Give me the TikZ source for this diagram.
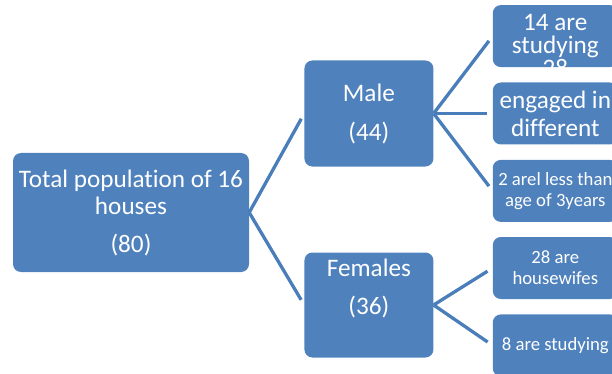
\documentclass[tikz,border=0pt]{standalone}
\usepackage{fontspec}
\setmainfont[Ligatures=NoCommon]{Carlito}
\usetikzlibrary{positioning}
\definecolor{boxblue}{HTML}{4F81BD}
\definecolor{linkblue}{HTML}{4A7EBB}

\begin{document}
\begin{tikzpicture}[
    x=1pt, y=-1pt,
    box/.style={fill=boxblue, rounded corners=8pt, text=white, align=center, inner sep=0pt},
    bigtext/.style={font=\fontsize{25.2}{27}\selectfont},
    smalltext/.style={font=\fontsize{18.7}{21}\selectfont},
    sidebox/.style={box, minimum width=125pt, minimum height=62pt},
    link/.style={draw=linkblue, line width=3.3pt, shorten >=6pt}
  ]
  \useasboundingbox (0,0) rectangle (612,374);
  \clip (0,0) rectangle (612,374);

  \node[box, bigtext, minimum width=236pt, minimum height=119pt] (total) at (131,212.5)
    {Total population of 16\\houses\\[11pt](80)};
  \node[box, bigtext, minimum width=129pt, minimum height=106pt,
    right=55pt of total, yshift=99pt] (male) {Male\\[12pt](44)};
  \node[box, bigtext, minimum width=129pt, minimum height=105pt,
    right=55pt of total, yshift=-92.5pt] (females) {Females\\[11pt](36)\\[10pt]~};

  \node[sidebox, bigtext, font=\fontsize{25.2}{28}\selectfont, right=59pt of male] (engaged)
    {engaged in\\different};
  \node[sidebox, above=15pt of engaged] (studying) {};
  \node[sidebox, smalltext, below=15pt of engaged] (young) {2 arel less than\\age of 3years};
  \node[sidebox, smalltext, right=59pt of females, yshift=37pt] (housewives) {28 are\\housewifes};
  \node[sidebox, smalltext, below=15pt of housewives] (femstudy) {8 are studying};

  % text of the top box runs past its lower edge
  \begin{scope}
    \clip[rounded corners=8pt] (studying.south west) rectangle (studying.north east);
    \node[text=white, align=center, inner sep=0pt, font=\fontsize{25.2}{23}\selectfont,
      below=9.5pt of studying.north] (studyingtext) {14 are\\studying\\28};
  \end{scope}

  \draw[link] (total.east) -- (male.west);
  \draw[link] (total.east) -- (females.west);
  \foreach \side in {studying, engaged, young}
    \draw[link] (male.east) -- (\side.west);
  \foreach \side in {housewives, femstudy}
    \draw[link] (females.east) -- (\side.west);
\end{tikzpicture}
\end{document}
